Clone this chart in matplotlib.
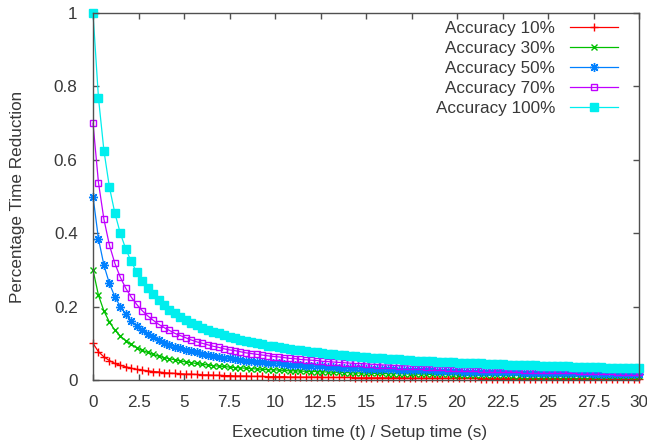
import matplotlib
matplotlib.use("Agg")
import matplotlib.pyplot as plt

# ---- data ----
x_values = [0.0, 0.3, 0.6, 0.9, 1.2, 1.5, 1.8, 2.1, 2.4, 2.7, 3.0, 3.3, 3.6, 3.9, 4.2, 4.5,
            4.8, 5.1, 5.4, 5.7, 6.0, 6.3, 6.6, 6.9, 7.2, 7.5, 7.8, 8.1, 8.4, 8.7, 9.0, 9.3,
            9.6, 9.9, 10.2, 10.5, 10.8, 11.1, 11.4, 11.7, 12.0, 12.3, 12.6, 12.9, 13.2, 13.5,
            13.8, 14.1, 14.4, 14.7, 15.0, 15.3, 15.6, 15.9, 16.2, 16.5, 16.8, 17.1, 17.4, 17.7,
            18.0, 18.3, 18.6, 18.9, 19.2, 19.5, 19.8, 20.1, 20.4, 20.7, 21.0, 21.3, 21.6, 21.9,
            22.2, 22.5, 22.8, 23.1, 23.4, 23.7, 24.0, 24.3, 24.6, 24.9, 25.2, 25.5, 25.8, 26.1,
            26.4, 26.7, 27.0, 27.3, 27.6, 27.9, 28.2, 28.5, 28.8, 29.1, 29.4, 29.7, 30.0]

acc_10 = [0.100, 0.077, 0.063, 0.053, 0.045, 0.040, 0.036, 0.032, 0.029, 0.027,
          0.025, 0.023, 0.022, 0.020, 0.019, 0.018, 0.017, 0.016, 0.016, 0.015,
          0.014, 0.014, 0.013, 0.013, 0.012, 0.012, 0.011, 0.011, 0.011, 0.010,
          0.010, 0.010, 0.009, 0.009, 0.009, 0.009, 0.008, 0.008, 0.008, 0.008,
          0.008, 0.008, 0.007, 0.007, 0.007, 0.007, 0.007, 0.007, 0.006, 0.006,
          0.006, 0.006, 0.006, 0.006, 0.006, 0.006, 0.006, 0.006, 0.005, 0.005,
          0.005, 0.005, 0.005, 0.005, 0.005, 0.005, 0.005, 0.005, 0.005, 0.005,
          0.005, 0.004, 0.004, 0.004, 0.004, 0.004, 0.004, 0.004, 0.004, 0.004,
          0.004, 0.004, 0.004, 0.004, 0.004, 0.004, 0.004, 0.004, 0.004, 0.004,
          0.004, 0.004, 0.003, 0.003, 0.003, 0.003, 0.003, 0.003, 0.003, 0.003,
          0.003]

acc_30 = [0.300, 0.231, 0.188, 0.158, 0.136, 0.120, 0.107, 0.097, 0.088, 0.081,
          0.075, 0.070, 0.065, 0.061, 0.058, 0.055, 0.052, 0.049, 0.047, 0.045,
          0.043, 0.041, 0.039, 0.038, 0.037, 0.035, 0.034, 0.033, 0.032, 0.031,
          0.030, 0.029, 0.028, 0.028, 0.027, 0.026, 0.025, 0.025, 0.024, 0.024,
          0.023, 0.023, 0.022, 0.022, 0.021, 0.021, 0.020, 0.020, 0.019, 0.019,
          0.019, 0.018, 0.018, 0.018, 0.017, 0.017, 0.017, 0.017, 0.016, 0.016,
          0.016, 0.016, 0.015, 0.015, 0.015, 0.015, 0.014, 0.014, 0.014, 0.014,
          0.014, 0.013, 0.013, 0.013, 0.013, 0.013, 0.013, 0.012, 0.012, 0.012,
          0.012, 0.012, 0.012, 0.012, 0.011, 0.011, 0.011, 0.011, 0.011, 0.011,
          0.011, 0.011, 0.010, 0.010, 0.010, 0.010, 0.010, 0.010, 0.010, 0.010,
          0.010]

acc_50 = [0.500, 0.385, 0.313, 0.263, 0.227, 0.200, 0.179, 0.161, 0.147, 0.135,
          0.125, 0.116, 0.109, 0.102, 0.096, 0.091, 0.086, 0.082, 0.078, 0.075,
          0.071, 0.068, 0.066, 0.063, 0.061, 0.059, 0.057, 0.055, 0.053, 0.052,
          0.050, 0.049, 0.047, 0.046, 0.045, 0.043, 0.042, 0.041, 0.040, 0.039,
          0.038, 0.038, 0.037, 0.036, 0.035, 0.034, 0.034, 0.033, 0.032, 0.032,
          0.031, 0.031, 0.030, 0.030, 0.029, 0.029, 0.028, 0.028, 0.027, 0.027,
          0.026, 0.026, 0.026, 0.025, 0.025, 0.024, 0.024, 0.024, 0.023, 0.023,
          0.023, 0.022, 0.022, 0.022, 0.022, 0.021, 0.021, 0.021, 0.021, 0.020,
          0.020, 0.020, 0.020, 0.019, 0.019, 0.019, 0.019, 0.018, 0.018, 0.018,
          0.018, 0.018, 0.017, 0.017, 0.017, 0.017, 0.017, 0.017, 0.016, 0.016,
          0.016]

acc_70 = [0.700, 0.538, 0.438, 0.368, 0.318, 0.280, 0.250, 0.226, 0.206, 0.189,
          0.175, 0.163, 0.152, 0.143, 0.135, 0.127, 0.121, 0.115, 0.109, 0.104,
          0.100, 0.096, 0.092, 0.089, 0.085, 0.082, 0.080, 0.077, 0.074, 0.072,
          0.070, 0.068, 0.066, 0.064, 0.063, 0.061, 0.059, 0.058, 0.056, 0.055,
          0.054, 0.053, 0.051, 0.050, 0.049, 0.048, 0.047, 0.046, 0.045, 0.045,
          0.044, 0.043, 0.042, 0.041, 0.041, 0.040, 0.039, 0.039, 0.038, 0.037,
          0.037, 0.036, 0.036, 0.035, 0.035, 0.034, 0.034, 0.033, 0.033, 0.032,
          0.032, 0.031, 0.031, 0.031, 0.030, 0.030, 0.029, 0.029, 0.029, 0.028,
          0.028, 0.028, 0.027, 0.027, 0.027, 0.026, 0.026, 0.026, 0.026, 0.025,
          0.025, 0.025, 0.024, 0.024, 0.024, 0.024, 0.023, 0.023, 0.023, 0.023,
          0.023]

acc_100 = [1.000, 0.769, 0.625, 0.526, 0.455, 0.400, 0.357, 0.323, 0.294, 0.270,
           0.250, 0.233, 0.217, 0.204, 0.192, 0.182, 0.172, 0.164, 0.156, 0.149,
           0.143, 0.137, 0.132, 0.127, 0.122, 0.118, 0.114, 0.110, 0.106, 0.103,
           0.100, 0.097, 0.094, 0.092, 0.089, 0.087, 0.085, 0.083, 0.081, 0.079,
           0.077, 0.075, 0.074, 0.072, 0.070, 0.069, 0.068, 0.066, 0.065, 0.064,
           0.063, 0.061, 0.060, 0.059, 0.058, 0.057, 0.056, 0.055, 0.054, 0.053,
           0.053, 0.052, 0.051, 0.050, 0.050, 0.049, 0.048, 0.047, 0.047, 0.046,
           0.045, 0.045, 0.044, 0.044, 0.043, 0.043, 0.042, 0.042, 0.041, 0.040,
           0.040, 0.040, 0.039, 0.039, 0.038, 0.038, 0.037, 0.037, 0.036, 0.036,
           0.036, 0.035, 0.035, 0.035, 0.034, 0.034, 0.034, 0.033, 0.033, 0.033,
           0.032]

series_labels = ["Accuracy 10%", "Accuracy 30%", "Accuracy 50%", "Accuracy 70%", "Accuracy 100%"]
x_ticks = [0, 2.5, 5, 7.5, 10, 12.5, 15, 17.5, 20, 22.5, 25, 27.5, 30]
x_tick_labels = ["0", "2.5", "5", "7.5", "10", "12.5", "15", "17.5", "20", "22.5", "25", "27.5", "30"]
y_ticks = [0, 0.2, 0.4, 0.6, 0.8, 1.0]
y_tick_labels = ["0", "0.2", "0.4", "0.6", "0.8", "1"]

# ---- style ----
plt.rcParams['font.family'] = ['Liberation Sans', 'DejaVu Sans']
FS = 12.3
TXT = '#383838'
AXC = '#505050'

fig = plt.figure(figsize=(6.47, 4.45), dpi=100)
ax = fig.add_axes([93 / 647, 1 - 380 / 445, 546 / 647, 367 / 445])

styles = [
    dict(color='#ff0000', marker='+', markersize=6, mew=1.0),
    dict(color='#00c000', marker='x', markersize=5, mew=1.0),
    dict(color='#0080ff', marker=(8, 2, 0), markersize=6.5, mew=1.0),
    dict(color='#c000ff', marker='s', markersize=5, mew=1.0, mfc='none'),
    dict(color='#00eeee', marker='s', markersize=5.5, mew=1.0),
]
all_series = [acc_10, acc_30, acc_50, acc_70, acc_100]
for ys, lab, st in zip(all_series, series_labels, styles):
    ax.plot(x_values, ys, lw=0.9, label=lab, clip_on=False, **st)

ax.set_xlim(0, 30)
ax.set_ylim(0, 1)
ax.set_xticks(x_ticks)
ax.set_xticklabels(x_tick_labels)
ax.set_yticks(y_ticks)
ax.set_yticklabels(y_tick_labels)
ax.tick_params(axis='both', direction='in', length=4.5, width=1, color=AXC,
               labelsize=FS, labelcolor=TXT, top=True, right=True)
ax.tick_params(axis='x', pad=10.5)
ax.tick_params(axis='y', pad=11)
for sp in ax.spines.values():
    sp.set_color(AXC)
    sp.set_linewidth(1)

ax.set_xlabel("Execution time (t) / Setup time (s)", fontsize=FS, color=TXT)
ax.set_ylabel("Percentage Time Reduction", fontsize=FS, color=TXT)
ax.xaxis.set_label_coords(0.489, -0.142)
ax.yaxis.set_label_coords(-0.139, 0.5)
ax.xaxis.label.set_va('center')
ax.yaxis.label.set_va('center')

leg = ax.legend(loc='upper right', bbox_to_anchor=(0.9615, 0.979), frameon=False,
                markerfirst=False, fontsize=FS, handlelength=2.8, handletextpad=0.88,
                labelspacing=0.3, borderpad=0, borderaxespad=0, numpoints=1)
for t in leg.get_texts():
    t.set_color(TXT)

fig.savefig("out.png", dpi=100)
